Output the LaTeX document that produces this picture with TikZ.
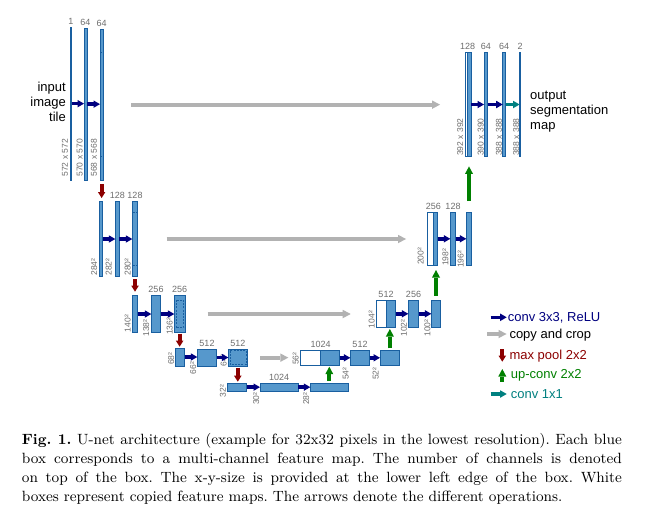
\documentclass[tikz,border=0pt]{standalone}
\usepackage{fontspec}
\newfontfamily\lsans{Liberation Sans}
\newfontfamily\capfont[BoldFont=lmroman9-bold.otf]{lmroman9-regular.otf}
\usetikzlibrary{arrows.meta}
\definecolor{boxfill}{RGB}{86,152,204}
\definecolor{boxdraw}{RGB}{25,95,160}
\definecolor{convblue}{RGB}{0,0,128}
\definecolor{copygray}{RGB}{178,178,178}
\definecolor{poolred}{RGB}{140,0,0}
\definecolor{upgreen}{RGB}{0,128,0}
\definecolor{tealc}{RGB}{0,128,128}
\definecolor{labelgray}{RGB}{110,110,110}
\newcommand\FMbox[6]{\node[#1, minimum width={#4-(#3)}, minimum height={#6-(#5)}] (#2) at ({(#3+#4)/2},{(#5+#6)/2}) {};}
\tikzset{
  fm/.style={rectangle, draw=boxdraw, fill=boxfill, line width=0.6pt, inner sep=0pt, outer sep=0pt},
  fmw/.style={fm, fill=white},
  crop/.style={draw=boxdraw, line width=0.5pt, dash pattern=on 2pt off 1.2pt},
  conv/.style={draw=convblue, line width=3.5pt, -{Triangle[length=6.5pt,width=7.5pt,line width=0pt]}},
  copyarr/.style={draw=copygray, line width=4pt, -{Triangle[length=8pt,width=8.5pt,line width=0pt]}},
  pool/.style={draw=poolred, line width=4pt, -{Triangle[length=6pt,width=7.5pt,line width=0pt]}},
  upconv/.style={draw=upgreen, line width=4.2pt, -{Triangle[length=7.5pt,width=8pt,line width=0pt]}},
  oneconv/.style={draw=tealc, line width=3.5pt, -{Triangle[length=6.5pt,width=7.5pt,line width=0pt]}},
  chan/.style={font=\lsans\fontsize{9}{10}\selectfont, text=labelgray, inner sep=0pt, anchor=south, yshift=2.2pt},
  sz/.style={font=\lsans\fontsize{8.5}{10}\selectfont, text=labelgray, inner sep=0pt, rotate=90, anchor=west},
  leg/.style={font=\lsans\fontsize{13}{15}\selectfont, inner sep=0pt, anchor=west},
}
\begin{document}
\begin{tikzpicture}[x=1pt,y=-1pt]
\useasboundingbox (0,0) rectangle (645,527);
\fill[white] (0,0) rectangle (645,527);
% ---------------- feature maps: contracting path
\FMbox{fm}{d1a}{70.3}{71.5}{27.3}{180}
\FMbox{fm}{d1b}{84}{87}{28.3}{180}
\FMbox{fm}{d1c}{100}{103.3}{29.3}{180}
\FMbox{fm}{d2a}{99.3}{102.7}{201.3}{276.7}
\FMbox{fm}{d2b}{115.3}{119.3}{201.3}{276.7}
\FMbox{fm}{d2c}{132.3}{137.7}{201.3}{276.7}
\FMbox{fm}{d3a}{132.3}{137.7}{295.3}{332.7}
\FMbox{fm}{d3b}{151.3}{160.7}{295.3}{332.7}
\FMbox{fm}{d3c}{174.3}{185}{295.3}{332.7}
\FMbox{fm}{d4a}{175.3}{184.7}{348}{366}
\FMbox{fm}{d4b}{197.3}{216.7}{349}{366}
\FMbox{fm}{d4c}{228.3}{247.3}{349.3}{366}
\FMbox{fm}{b5a}{227.3}{246.7}{383}{391.3}
\FMbox{fm}{b5b}{260}{298.3}{383}{391.3}
\FMbox{fm}{b5c}{310.3}{348.3}{383}{391.3}
% ---------------- expanding path
\FMbox{fmw}{u4a}{300.3}{320.7}{350.3}{365.3}
\FMbox{fm}{u4aB}{320.7}{339.7}{350.3}{365.3}
\FMbox{fm}{u4b}{350.3}{369.7}{350.3}{365.3}
\FMbox{fm}{u4c}{380}{399.7}{350.3}{365.3}
\FMbox{fmw}{u3a}{376.3}{386}{300.3}{327.3}
\FMbox{fm}{u3aB}{386}{395.7}{300.3}{327.3}
\FMbox{fm}{u3b}{408.3}{418.7}{300.3}{327.3}
\FMbox{fm}{u3c}{431.3}{440.7}{300.3}{327.3}
\FMbox{fmw}{u2a}{427}{433.3}{212.3}{265.3}
\FMbox{fm}{u2aB}{433.3}{437.7}{212.3}{265.3}
\FMbox{fm}{u2b}{450.3}{455.7}{212.3}{265.3}
\FMbox{fm}{u2c}{466.3}{471.7}{212.3}{265.3}
\FMbox{fmw}{u1a}{465.3}{467.6}{52.3}{156.7}
\FMbox{fm}{u1aB}{467.6}{471}{52.3}{156.7}
\FMbox{fm}{u1b}{484}{487.7}{52.3}{156.7}
\FMbox{fm}{u1c}{502.7}{505.7}{52.3}{156.7}
\FMbox{fm}{u1d}{519.6}{520.6}{52.3}{156.7}
% ---------------- crop marks
\draw[crop] (100.3,52.7) -- (103,52.7) (100.3,156.7) -- (103,156.7);
\draw[crop] (132.6,212.3) -- (137.4,212.3) (132.6,265.7) -- (137.4,265.7);
\draw[crop] (176,300) rectangle (183.6,327.6);
\draw[crop] (229.8,350.6) rectangle (245.8,364.7);
% ---------------- channel labels
\node[chan] (cd1a) at (d1a.north) {1};
\node[chan] (cd1b) at (d1b.north) {64};
\node[chan] (cd1c) at (d1c.north) {64};
\node[chan] (cd2b) at (d2b.north) {128};
\node[chan] (cd2c) at (d2c.north) {128};
\node[chan] (cd3b) at (d3b.north) {256};
\node[chan] (cd3c) at (d3c.north) {256};
\node[chan] (cd4b) at (d4b.north) {512};
\node[chan] (cd4c) at (d4c.north) {512};
\node[chan] (cb5b) at (b5b.north) {1024};
\node[chan] (cu4a) at (u4a.north east) {1024};
\node[chan] (cu4b) at (u4b.north) {512};
\node[chan] (cu3a) at (u3a.north east) {512};
\node[chan] (cu3b) at (u3b.north) {256};
\node[chan] (cu2a) at (u2a.north east) {256};
\node[chan] (cu2b) at (u2b.north) {128};
\node[chan] (cu1a) at (u1a.north east) {128};
\node[chan] (cu1b) at (u1b.north) {64};
\node[chan] (cu1c) at (u1c.north) {64};
\node[chan] (cu1d) at (u1d.north) {2};
% ---------------- size labels
\node[sz] (sd1a) at (65,176.7) {572 x 572};
\node[sz] (sd1b) at (79.7,176.7) {570 x 570};
\node[sz] (sd1c) at (94,176.7) {568 x 568};
\node[sz] (sd2a) at (94.2,275.7) {284²};
\node[sz] (sd2b) at (108.8,275.7) {282²};
\node[sz] (sd2c) at (127.8,275.7) {280²};
\node[sz] (sd3a) at (127.8,332.3) {140²};
\node[sz] (sd3b) at (146.3,336.7) {138²};
\node[sz] (sd3c) at (169.7,335) {136²};
\node[sz] (sd4a) at (171.2,365) {68²};
\node[sz] (sd4b) at (193.3,374.3) {66²};
\node[sz] (sd4c) at (223.7,366.7) {64²};
\node[sz] (sb5a) at (223,397.3) {32²};
\node[sz] (sb5b) at (256.3,405) {30²};
\node[sz] (sb5c) at (306.3,405) {28²};
\node[sz] (su4a) at (295.7,365) {56²};
\node[sz] (su4b) at (345.7,380) {54²};
\node[sz] (su4c) at (375.7,380) {52²};
\node[sz] (su3a) at (371.7,328.3) {104²};
\node[sz] (su3b) at (404,336.7) {102²};
\node[sz] (su3c) at (427.5,336.7) {100²};
\node[sz] (su2a) at (420.8,265) {200²};
\node[sz] (su2b) at (445.5,266) {198²};
\node[sz] (su2c) at (460.8,268) {196²};
\node[sz] (su1a) at (460.3,156) {392 x 392};
\node[sz] (su1b) at (480.7,156) {390 x 390};
\node[sz] (su1c) at (499,156) {388 x 388};
\node[sz] (su1d) at (516.3,156) {388 x 388};
% ---------------- conv 3x3 arrows
\foreach \a/\b in {d1a/d1b,d1b/d1c,d2a/d2b,d2b/d2c,d3a/d3b,d3b/d3c,d4a/d4b,d4b/d4c,b5a/b5b,b5b/b5c,u4aB/u4b,u4b/u4c,u3aB/u3b,u3b/u3c,u2aB/u2b,u2b/u2c,u1aB/u1b,u1b/u1c}
  \draw[conv] (\a.east) -- (\a.east -| \b.west);
\draw[oneconv] (u1c.east) -- (u1c.east -| u1d.west);
% ---------------- copy and crop
\draw[copyarr, shorten <=27.7pt, shorten >=25.3pt] (d1c.east) -- (d1c.east -| u1a.west);
\draw[copyarr, shorten <=29pt, shorten >=21pt] (d2c.east) -- (d2c.east -| u2a.west);
\draw[copyarr, shorten <=22.7pt, shorten >=25.6pt] (d3c.east) -- (d3c.east -| u3a.west);
\draw[copyarr, shorten <=12.7pt, shorten >=12pt] (d4c.east) -- (d4c.east -| u4a.west);
% ---------------- max pool
\draw[pool, shorten <=4pt, shorten >=3.3pt] (d1c.south) -- (d1c.south |- d2a.north);
\draw[pool, shorten <=2.3pt, shorten >=3.6pt] (d2c.south) -- (d2c.south |- d3a.north);
\draw[pool, shorten <=0.8pt, shorten >=1.3pt] (d3c.south) -- (d3c.south |- d4a.north);
\draw[pool, shorten <=1.5pt, shorten >=1.3pt] (d4c.south) -- (d4c.south |- b5a.north);
% ---------------- up-conv
\draw[upconv, shorten <=2pt, shorten >=1.4pt] (b5c.north) -- (b5c.north |- u4aB.south);
\draw[upconv, shorten <=2pt, shorten >=1.7pt] (u4c.north) -- (u4c.north |- u3aB.south);
\draw[upconv, shorten <=4.6pt, shorten >=4.7pt] (u3c.north) -- (u3c.north |- u2aB.south);
\draw[upconv, shorten <=11.3pt, shorten >=9.7pt] (u2c.north) -- (u2c.north |- u1aB.south);
% ---------------- input / output text
\node[font=\lsans\fontsize{13}{14.7}\selectfont, align=right, inner sep=0pt, anchor=east] (intext) at (66,102) {input\\image\\tile};
\node[font=\lsans\fontsize{13}{15}\selectfont, align=left, inner sep=0pt, anchor=west] (outtext) at (530,111.7) {output\\segmentation\\map};
% ---------------- legend
\coordinate (lg1a) at (490.7,317.3); \coordinate (lg1b) at (506.7,317.3);
\coordinate (lg2a) at (487.3,334);   \coordinate (lg2b) at (506.5,334);
\coordinate (lg3a) at (502.3,349.3); \coordinate (lg3b) at (502.3,361.7);
\coordinate (lg4a) at (502.3,381.7); \coordinate (lg4b) at (502.3,369);
\coordinate (lg5a) at (490.7,394);   \coordinate (lg5b) at (506.7,394);
\draw[conv] (lg1a) -- (lg1b);
\draw[copyarr] (lg2a) -- (lg2b);
\draw[pool] (lg3a) -- (lg3b);
\draw[upconv] (lg4a) -- (lg4b);
\draw[oneconv] (lg5a) -- (lg5b);
\node[leg, text=convblue] (lt1) at (507.7,318) {conv 3x3, ReLU};
\node[leg] (lt2) at (509.3,335) {copy and crop};
\node[leg, text=poolred] (lt3) at (509.3,356.5) {max pool 2x2};
\node[leg, text=upgreen] (lt4) at (510.7,375.5) {up-conv 2x2};
\node[leg, text=tealc] (lt5) at (510.7,394.5) {conv 1x1};
% ---------------- caption
\node[anchor=north west, inner sep=0pt, text width=600pt, align=justify, font=\capfont\fontsize{14.85}{19.2}\selectfont\frenchspacing] (cap) at (21.7,432.9)
{\textbf{Fig.~1.} U-net architecture (example for 32x32 pixels in the lowest resolution). Each blue\linebreak
box corresponds to a multi-channel feature map. The number of channels is denoted\linebreak
on top of the box. The x-y-size is provided at the lower left edge of the box. White\linebreak
boxes represent copied feature maps. The arrows denote the different operations.};
\end{tikzpicture}
\end{document}
